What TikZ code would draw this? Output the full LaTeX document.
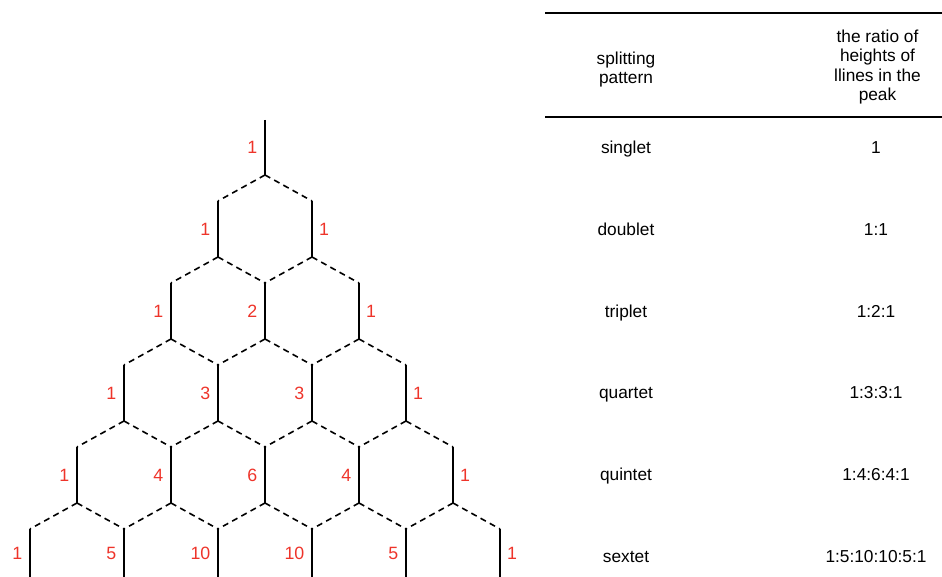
\documentclass[tikz,border=0pt]{standalone}
\usepackage{fontspec}
\setmainfont{Liberation Sans}
\definecolor{countred}{RGB}{238,52,42}
\begin{document}
\begin{tikzpicture}[x=1pt,y=-1pt,
  solidline/.style={line width=1.8pt},
  dashline/.style={line width=1.6pt, dash pattern=on 6pt off 4.5pt},
  count/.style={text=countred, font=\fontsize{17.8}{20}\selectfont, inner sep=0pt},
  cell/.style={font=\fontsize{17.3}{19.4}\selectfont, inner sep=0pt},
  rule/.style={line width=2pt}]
\useasboundingbox (0,0) rectangle (942,577);

% Pascal triangle as a hexagonal splitting tree
\foreach \k in {0,...,5} {
  \foreach \i in {0,...,\k} {
    \pgfmathsetmacro\xx{265+47*(2*\i-\k)}
    \ifnum\k=0
      \def\ytop{120}\def\ybot{175}
    \else
      \pgfmathsetmacro\ytop{201+82*(\k-1)}
      \ifnum\k=5
        \def\ybot{577}
      \else
        \pgfmathsetmacro\ybot{\ytop+56}
      \fi
    \fi
    \coordinate (T\k-\i) at (\xx,\ytop);
    \coordinate (B\k-\i) at (\xx,\ybot);
    \draw[solidline] (T\k-\i) -- (B\k-\i);
    \pgfmathsetmacro\ymid{(\ytop+\ybot)/2}
    \pgfmathtruncatemacro\cnt{factorial(\k)/(factorial(\i)*factorial(\k-\i))}
    \ifnum\i=\k
      \ifnum\k=0
        \node[count, anchor=east] (L\k-\i) at (\xx-7.5,\ymid) {\cnt};
      \else
        \node[count, anchor=west] (L\k-\i) at (\xx+7,\ymid) {\cnt};
      \fi
    \else
      \node[count, anchor=east] (L\k-\i) at (\xx-7.5,\ymid) {\cnt};
    \fi
  }
}
% dashed branches joining each row to the next
\foreach \k in {0,...,4} {
  \pgfmathtruncatemacro\kn{\k+1}
  \foreach \i in {0,...,\k} {
    \pgfmathtruncatemacro\inx{\i+1}
    \draw[dashline] (B\k-\i) -- (T\kn-\i);
    \draw[dashline] (B\k-\i) -- (T\kn-\inx);
  }
}

% table
\draw[rule] (545,13) -- (942,13);
\draw[rule] (545,117.5) -- (942,117.5);
\node[cell, anchor=north, align=center] (hpat) at (626,51.5) {splitting\\pattern};
\node[cell, anchor=north, align=center] (hratio) at (877.5,29.5) {the ratio of\\heights of\\llines in the\\peak};

\foreach \nm/\rt [count=\r from 0] in {singlet/1, doublet/1:1, triplet/1:2:1, quartet/1:3:3:1, quintet/1:4:6:4:1, sextet/1:5:10:10:5:1} {
  \pgfmathsetmacro\yb{154+81.6*\r}
  \node[cell, anchor=base] (name\r) at (626,\yb) {\nm};
  \node[cell, anchor=base] (ratio\r) at (876,\yb) {\rt};
}
\end{tikzpicture}
\end{document}
